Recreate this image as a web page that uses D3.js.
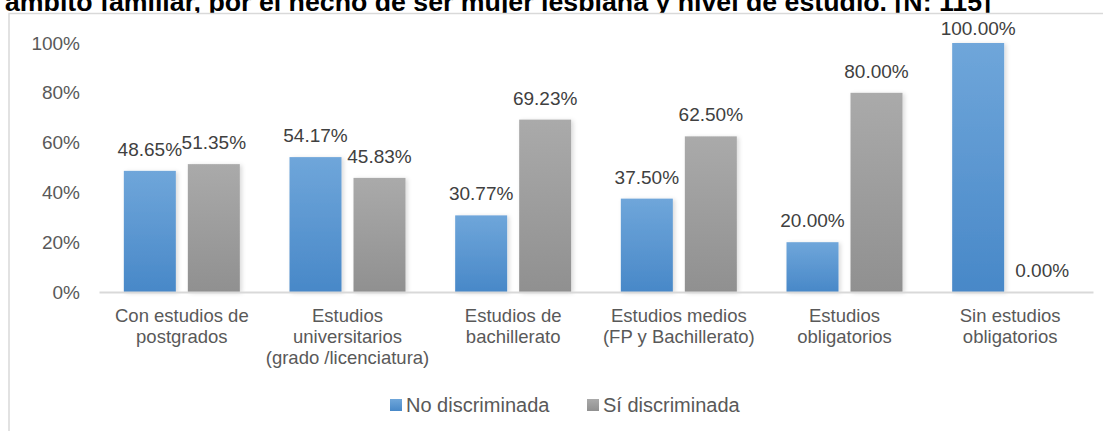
<!DOCTYPE html>
<meta charset="utf-8">
<style>
  body { margin: 0; background: #fff; }
  text { font-family: "Liberation Sans", Arial, sans-serif; }
</style>
<script src="https://d3js.org/d3.v7.min.js"></script>
<div id="chart"></div>
<script>

// categories (line breaks as in the picture)
var categories = [
  "Con estudios de\npostgrados",
  "Estudios\nuniversitarios\n(grado /licenciatura)",
  "Estudios de\nbachillerato",
  "Estudios medios\n(FP y Bachillerato)",
  "Estudios\nobligatorios",
  "Sin estudios\nobligatorios"
];
var noDiscriminada = [48.65, 54.17, 30.77, 37.50, 20.00, 100.00];
var siDiscriminada = [51.35, 45.83, 69.23, 62.50, 80.00, 0.00];
var seriesNames = ["No discriminada", "Sí discriminada"];
var yTicks = [0, 20, 40, 60, 80, 100];
var title = "ámbito familiar, por el hecho de ser mujer lesbiana y nivel de estudio. [N: 115]";

var W = 1103, H = 431;
var plot = {left: 99, right: 1093, top: 43, bottom: 292};

var svg = d3.select("#chart").append("svg")
  .attr("width", W).attr("height", H);

var defs = svg.append("defs");
function grad(id, c1, c2) {
  var g = defs.append("linearGradient").attr("id", id)
    .attr("x1", 0).attr("y1", 0).attr("x2", 0).attr("y2", 1);
  g.append("stop").attr("offset", "0%").attr("stop-color", c1);
  g.append("stop").attr("offset", "100%").attr("stop-color", c2);
}
grad("gBlue", "#6fa6da", "#4888c8");
grad("gGray", "#aaaaaa", "#909090");

var shadow = defs.append("filter").attr("id", "shadow")
  .attr("x", "-20%").attr("y", "-10%").attr("width", "150%").attr("height", "130%");
shadow.append("feDropShadow").attr("dx", 2).attr("dy", 1)
  .attr("stdDeviation", 2).attr("flood-color", "#000").attr("flood-opacity", 0.15);

// title (cut off at the top, as in the picture)
svg.append("text")
  .attr("x", 5).attr("y", 11)
  .attr("font-size", 25).attr("font-weight", "bold")
  .attr("textLength", 986).attr("lengthAdjust", "spacingAndGlyphs")
  .attr("fill", "#000")
  .text(title);

// chart border
svg.append("rect")
  .attr("x", 9).attr("y", 13.5)
  .attr("width", 1110).attr("height", 440)
  .attr("fill", "#fff")
  .attr("stroke", "#d9d9d9").attr("stroke-width", 1.5);

var x = d3.scaleBand()
  .domain(categories)
  .range([plot.left, plot.right]);

var y = d3.scaleLinear()
  .domain([0, 100])
  .range([plot.bottom, plot.top]);

var barW = 52, gap = 12;
// group offset so the pair is centred in its band
var groupOffset = (x.bandwidth() - (barW * 2 + gap)) / 2;

// y axis labels
svg.append("g")
  .attr("transform", "translate(" + plot.left + ",0)")
  .call(d3.axisLeft(y).tickValues(yTicks).tickSize(0).tickPadding(19)
    .tickFormat(function(d) { return d + "%"; }))
  .call(function(g) {
    g.select(".domain").remove();
    g.selectAll("text")
      .attr("font-family", null)
      .attr("font-size", 19)
      .attr("fill", "#595959");
  });

var data = categories.map(function(c, i) {
  return {cat: c, values: [
    {s: seriesNames[0], v: noDiscriminada[i], fill: "url(#gBlue)"},
    {s: seriesNames[1], v: siDiscriminada[i], fill: "url(#gGray)"}
  ]};
});

var groups = svg.selectAll("g.grp")
  .data(data).enter().append("g")
  .attr("class", "grp")
  .attr("transform", function(d) { return "translate(" + (x(d.cat) + groupOffset) + ",0)"; });

groups.selectAll("rect")
  .data(function(d) { return d.values; })
  .enter().append("rect")
  .attr("x", function(d, i) { return i * (barW + gap); })
  .attr("y", function(d) { return y(d.v); })
  .attr("width", barW)
  .attr("height", function(d) { return y(0) - y(d.v); })
  .attr("fill", function(d) { return d.fill; })
  .attr("filter", function(d) { return d.v > 0 ? "url(#shadow)" : null; });

groups.selectAll("text")
  .data(function(d) { return d.values; })
  .enter().append("text")
  .attr("x", function(d, i) { return i * (barW + gap) + barW / 2; })
  .attr("y", function(d) { return Math.max(y(d.v) - 15, plot.top - 8); })
  .attr("text-anchor", "middle")
  .attr("font-size", 19)
  .attr("fill", "#404040")
  .text(function(d) { return d.v.toFixed(2) + "%"; });

// x axis
var xAxis = svg.append("g")
  .attr("transform", "translate(0," + plot.bottom + ")")
  .call(d3.axisBottom(x).tickSize(0).tickFormat(""));
xAxis.select(".domain").attr("stroke", "#d9d9d9").attr("stroke-width", 2);
xAxis.selectAll(".tick").each(function(d) {
  var t = d3.select(this).append("text")
    .attr("text-anchor", "middle")
    .attr("font-size", 18.5)
    .attr("fill", "#595959");
  d.split("\n").forEach(function(line, i) {
    t.append("tspan").attr("x", 0).attr("y", 30 + i * 21).text(line);
  });
});

// legend
var legend = svg.append("g").attr("transform", "translate(390,399)");
var legendX = [0, 197];
var legendColors = ["url(#gBlue)", "url(#gGray)"];
seriesNames.forEach(function(name, i) {
  var g = legend.append("g").attr("transform", "translate(" + legendX[i] + ",0)");
  g.append("rect").attr("width", 12).attr("height", 12).attr("fill", legendColors[i]);
  g.append("text").attr("x", 16).attr("y", 12.5)
    .attr("font-size", 20).attr("fill", "#595959").text(name);
});

</script>
